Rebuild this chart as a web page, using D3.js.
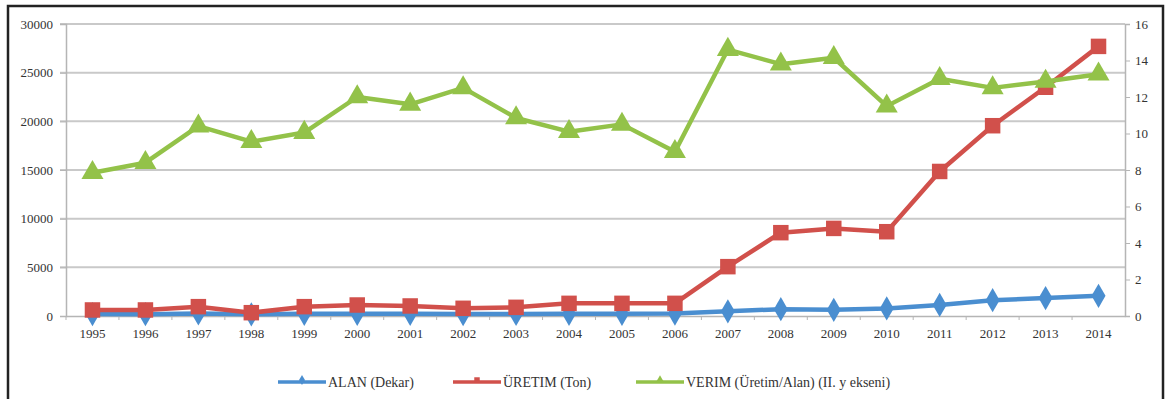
<!DOCTYPE html>
<html>
<head>
<meta charset="utf-8">
<script src="https://cdn.jsdelivr.net/npm/d3@7"></script>
<style>
  body { margin: 0; background: #fff; }
</style>
</head>
<body>
<svg id="chart" width="1170" height="399"></svg>
<script>
// values
var years = ["1995","1996","1997","1998","1999","2000","2001","2002","2003","2004",
             "2005","2006","2007","2008","2009","2010","2011","2012","2013","2014"];
var alan = [200, 190, 260, 170, 220, 230, 220, 200, 210, 230,
            230, 250, 480, 700, 640, 780, 1140, 1620, 1840, 2070];
var uretim = [620, 620, 960, 340, 960, 1130, 1030, 790, 890, 1300,
              1300, 1300, 5070, 8560, 9000, 8660, 14850, 19550, 23500, 27700];
var verim = [7.85, 8.4, 10.4, 9.55, 10.05, 12.0, 11.6, 12.5, 10.85, 10.1,
             10.5, 9.0, 14.6, 13.8, 14.15, 11.5, 13.0, 12.5, 12.85, 13.25];
var leftTicks = [0, 5000, 10000, 15000, 20000, 25000, 30000];
var rightTicks = [0, 2, 4, 6, 8, 10, 12, 14, 16];
var seriesNames = ["ALAN (Dekar)", "ÜRETIM  (Ton)", "VERIM (Üretim/Alan) (II. y ekseni)"];

var FONT = "'Liberation Serif', 'Times New Roman', Tinos, serif";

var svg = d3.select("#chart"),
    width = +svg.attr("width"),
    height = +svg.attr("height");
var margin = {top: 24, right: 45, bottom: 83, left: 66};

// outer frame
svg.append("rect")
    .attr("x", 8).attr("y", 6)
    .attr("width", 1155).attr("height", 400)
    .attr("fill", "none").attr("stroke", "#222").attr("stroke-width", 2.5);

var x = d3.scaleBand().domain(years).range([margin.left, width - margin.right]);
var yL = d3.scaleLinear().domain([0, 30000]).range([height - margin.bottom, margin.top]);
var yR = d3.scaleLinear().domain([0, 16]).range([height - margin.bottom, margin.top]);

// gridlines
svg.append("g").selectAll("line").data(leftTicks.slice(1)).enter().append("line")
    .attr("x1", margin.left - 6).attr("x2", width - margin.right)
    .attr("y1", function(d) { return yL(d); }).attr("y2", function(d) { return yL(d); })
    .attr("stroke", "#c9c9c9").attr("stroke-width", 2);

// left axis
var gL = svg.append("g").attr("transform", "translate(" + margin.left + ",0)")
    .call(d3.axisLeft(yL).tickValues(leftTicks).tickSize(6).tickPadding(7).tickFormat(d3.format("d")));
// right axis
var gR = svg.append("g").attr("transform", "translate(" + (width - margin.right) + ",0)")
    .call(d3.axisRight(yR).tickValues(rightTicks).tickSize(5).tickPadding(5));
// bottom axis
var gB = svg.append("g").attr("transform", "translate(0," + (height - margin.bottom) + ")")
    .call(d3.axisBottom(x).tickSize(0).tickPadding(13));
gB.selectAll(".tick").append("line")
    .attr("x1", -x.bandwidth() / 2).attr("x2", -x.bandwidth() / 2)
    .attr("y1", 0).attr("y2", 4).attr("stroke", "#bbb");

[gL, gR, gB].forEach(function(g) {
    g.attr("font-family", FONT).attr("font-size", 13);
    g.select(".domain").attr("stroke", "#b5b5b5").attr("stroke-width", 1.5);
    g.selectAll(".tick line").attr("stroke", "#b5b5b5");
    g.selectAll("text").attr("fill", "#333").attr("font-family", FONT);
});

var cx = function(d, i) { return x(years[i]) + x.bandwidth() / 2; };

var series = [
    {name: seriesNames[0], values: alan, scale: yL, color: "#4a8ed0", marker: d3.symbolDiamond, size: 170},
    {name: seriesNames[1], values: uretim, scale: yL, color: "#d1504b", marker: d3.symbolSquare, size: 240},
    {name: seriesNames[2], values: verim, scale: yR, color: "#93c249", marker: d3.symbolTriangle, size: 210}
];

series.forEach(function(s) {
    var line = d3.line()
        .x(cx)
        .y(function(d) { return s.scale(d); });
    var g = svg.append("g");
    g.append("path")
        .attr("d", line(s.values))
        .attr("fill", "none")
        .attr("stroke", s.color)
        .attr("stroke-width", 4.5)
        .attr("stroke-linejoin", "round");
    g.selectAll("path.pt").data(s.values).enter().append("path")
        .attr("class", "pt")
        .attr("d", d3.symbol().type(s.marker).size(s.size))
        .attr("transform", function(d, i) {
            return "translate(" + cx(d, i) + "," + s.scale(d) + ")";
        })
        .attr("fill", s.color);
});

// legend
var legendX = [278, 453, 636];
var legend = svg.append("g").attr("font-family", FONT);
series.forEach(function(s, i) {
    var lg = legend.append("g").attr("transform", "translate(" + legendX[i] + ",382)");
    lg.append("line").attr("x1", 0).attr("x2", 48).attr("y1", 0).attr("y2", 0)
        .attr("stroke", s.color).attr("stroke-width", 3.5);
    lg.append("path").attr("d", d3.symbol().type(s.marker).size(30))
        .attr("transform", "translate(24,-2)").attr("fill", s.color);
    lg.append("text").attr("x", 50).attr("y", 4.5)
        .attr("font-size", 14).attr("fill", "#333").text(s.name);
});
</script>
</body>
</html>
